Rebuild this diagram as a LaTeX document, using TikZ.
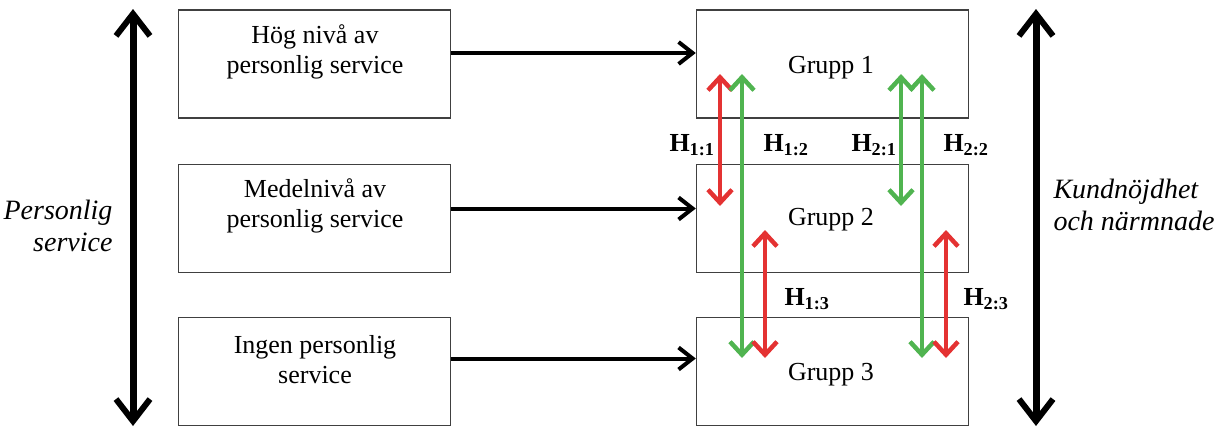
\documentclass[tikz,border=0pt]{standalone}
\usepackage{fontspec}
\setmainfont{Liberation Serif}
\usetikzlibrary{arrows.meta}
\definecolor{hred}{RGB}{228,50,50}
\definecolor{hgreen}{RGB}{80,180,80}
\tikzset{
  bigtip/.tip={Straight Barb[length=22pt,width=34pt,line width=6pt]},
  htip/.tip={Straight Barb[length=14pt,width=22pt,line width=4pt]},
  ctip/.tip={Straight Barb[length=13pt,width=24pt,line width=4.5pt]}
}
\begin{document}
\begin{tikzpicture}[x=1pt,y=-1pt,
  box/.style={draw=black!75,line width=1.4pt,minimum width=272pt,minimum height=108pt,inner sep=0pt},
  boxtext/.style={align=center,font=\fontsize{26}{30}\selectfont},
  bigarrow/.style={line width=7pt,bigtip-bigtip},
  harrow/.style={line width=4pt,-htip},
  redarrow/.style={hred,line width=4.5pt,ctip-ctip},
  greenarrow/.style={hgreen,line width=4.5pt,ctip-ctip},
  hlabel/.style={font=\fontsize{26}{28}\selectfont\bfseries},
  sidelabel/.style={font=\fontsize{28}{32}\selectfont\itshape}
]
\useasboundingbox (0,0) rectangle (1231,431);
% boxes
\node[box] (L1) at (314.5,64) {};
\node[box] (L2) at (314.5,218.5) {};
\node[box] (L3) at (314.5,371.5) {};
\node[box] (R1) at (832.5,64) {};
\node[box] (R2) at (832.5,218.5) {};
\node[box] (R3) at (832.5,371.5) {};
% box texts
\node[boxtext] (tL1) at (315,52) {Hög nivå av\\personlig service};
\node[boxtext] (tL2) at (315,206) {Medelnivå av\\personlig service};
\node[boxtext] (tL3) at (315,360) {Ingen personlig\\service};
\node[boxtext] (tR1) at (831,68) {Grupp 1};
\node[boxtext] (tR2) at (831,220) {Grupp 2};
\node[boxtext] (tR3) at (831,375) {Grupp 3};
% horizontal arrows
\draw[harrow] ([yshift=11pt]L1.east) -- ([yshift=11pt]R1.west);
\draw[harrow] ([yshift=10pt]L2.east) -- ([yshift=10pt]R2.west);
\draw[harrow] ([yshift=13pt]L3.east) -- ([yshift=13pt]R3.west);
% side arrows
\coordinate (lt) at (133,9);
\coordinate (lb) at (133,426);
\coordinate (rt) at (1036,9);
\coordinate (rb) at (1036,426);
\draw[bigarrow] (lt) -- (lb);
\draw[bigarrow] (rt) -- (rb);
\node[sidelabel,align=right,anchor=east] (ps) at (116,226) {Personlig\\service};
\node[sidelabel,align=left,anchor=west] (kn) at (1050,205) {Kundnöjdhet\\och närmnade};
% hypothesis arrows
\coordinate (a11t) at (720,74);
\coordinate (a11b) at (720,206);
\coordinate (a12t) at (742,74);
\coordinate (a12b) at (742,358);
\coordinate (a21t) at (901,74);
\coordinate (a21b) at (901,206);
\coordinate (a22t) at (922,74);
\coordinate (a22b) at (922,358);
\coordinate (a13t) at (765,230);
\coordinate (a13b) at (765,358);
\coordinate (a23t) at (946,230);
\coordinate (a23b) at (946,358);
\draw[redarrow] (a11t) -- (a11b);
\draw[greenarrow] (a12t) -- (a12b);
\draw[greenarrow] (a21t) -- (a21b);
\draw[greenarrow] (a22t) -- (a22b);
\draw[redarrow] (a13t) -- (a13b);
\draw[redarrow] (a23t) -- (a23b);
% labels
\node[hlabel] (h11) at (692,145) {H\textsubscript{1:1}};
\node[hlabel] (h12) at (786,145) {H\textsubscript{1:2}};
\node[hlabel] (h21) at (874,145) {H\textsubscript{2:1}};
\node[hlabel] (h22) at (966,145) {H\textsubscript{2:2}};
\node[hlabel] (h13) at (807,299) {H\textsubscript{1:3}};
\node[hlabel] (h23) at (986,299) {H\textsubscript{2:3}};
\end{tikzpicture}
\end{document}
